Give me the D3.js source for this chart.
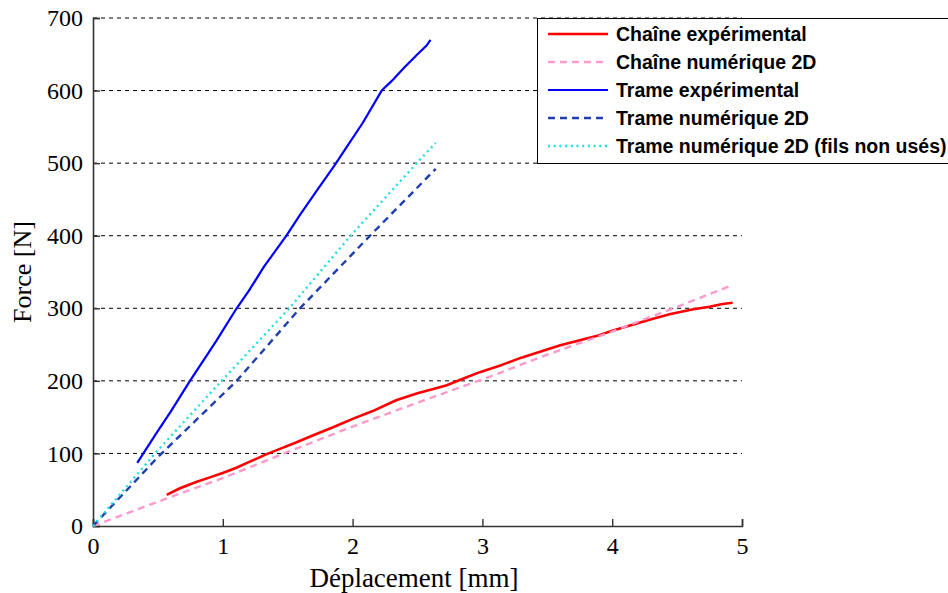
<!DOCTYPE html>
<html>
<head>
<meta charset="utf-8">
<script src="https://cdn.jsdelivr.net/npm/d3@7"></script>
<style>
  html, body { margin: 0; padding: 0; background: #fff; }
  svg { display: block; }
</style>
</head>
<body>
<svg id="chart" width="948" height="593"></svg>
<script>
// Force–displacement curves: warp (chaîne) and weft (trame), experiment vs 2D model
const xTicks = [0, 1, 2, 3, 4, 5];
const yTicks = [0, 100, 200, 300, 400, 500, 600, 700];

const chaineExpX = [0.568, 0.67, 0.80, 0.90, 1.004, 1.10, 1.20, 1.338, 1.45, 1.55, 1.697, 1.85, 2.005, 2.15, 2.34, 2.50, 2.65, 2.725, 2.85, 2.98, 3.15, 3.30, 3.444, 3.60, 3.75, 3.90, 4.00, 4.15, 4.30, 4.45, 4.625, 4.75, 4.85, 4.928];
const chaineExpY = [43, 52, 61, 67, 73.5, 80, 88, 99, 107, 114, 125, 136, 148, 158, 173.6, 183, 190, 194, 203, 212, 222, 232, 240, 249, 256, 263, 269, 277, 285, 292, 298.6, 302, 306, 307.7];

const chaineNumX = [0, 0.568, 1, 1.5, 2, 2.5, 3, 3.5, 4, 4.5, 4.928];
const chaineNumY = [0, 38, 66, 102, 137, 170, 202, 236, 268, 302, 332];

const trameExpX = [0.341, 0.388, 0.50, 0.60, 0.747, 0.85, 0.95, 1.107, 1.20, 1.32, 1.49, 1.60, 1.72, 1.857, 1.95, 2.08, 2.224, 2.30, 2.40, 2.50, 2.57, 2.60];
const trameExpY = [87, 100, 131, 158, 200, 228, 255, 300, 324, 358, 400, 430, 461, 496, 521, 556, 600, 613, 632, 650, 662, 670];

const trameNumX = [0, 0.5, 1.107, 1.595, 2.134, 2.64];
const trameNumY = [0, 95, 200, 300, 400, 492];

const trameNuX = [0, 0.478, 0.991, 1.512, 1.985, 2.494, 2.64];
const trameNuY = [0, 100, 200, 300, 400, 500, 528];

const seriesNames = [
  "Chaîne expérimental",
  "Chaîne numérique 2D",
  "Trame expérimental",
  "Trame numérique 2D",
  "Trame numérique 2D (fils non usés)"
];

const styles = [
  { color: "#ff0000", width: 2.6, dash: null },
  { color: "#ff99cc", width: 2.4, dash: "7,5" },
  { color: "#0000ff", width: 2.2, dash: null },
  { color: "#1f3fb0", width: 2.4, dash: "7,5" },
  { color: "#22dddd", width: 2.4, dash: "2,3.7" }
];

const xs = [chaineExpX, chaineNumX, trameExpX, trameNumX, trameNuX];
const ys = [chaineExpY, chaineNumY, trameExpY, trameNumY, trameNuY];

const svg = d3.select("#chart");
const plotLeft = 93, plotRight = 742, plotTop = 18, plotBottom = 526;

const x = d3.scaleLinear().domain([0, 5]).range([plotLeft, plotRight]);
const y = d3.scaleLinear().domain([0, 700]).range([plotBottom, plotTop]);

// horizontal dashed grid
svg.append("g")
  .selectAll("line")
  .data(yTicks.filter(d => d > 0))
  .join("line")
  .attr("x1", plotLeft).attr("x2", plotRight)
  .attr("y1", d => y(d)).attr("y2", d => y(d))
  .attr("stroke", "#000")
  .attr("stroke-width", 1)
  .attr("stroke-dasharray", "4,4");

// axes (ticks pointing inward)
const xAxis = svg.append("g")
  .attr("transform", `translate(0,${plotBottom})`)
  .call(d3.axisBottom(x).tickValues(xTicks).tickSize(-7).tickPadding(14).tickFormat(d3.format("d")));
const yAxis = svg.append("g")
  .attr("transform", `translate(${plotLeft},0)`)
  .call(d3.axisLeft(y).tickValues(yTicks).tickSize(-7).tickPadding(10).tickFormat(d3.format("d")));

[xAxis, yAxis].forEach(g => {
  g.select(".domain").attr("stroke", "#333").attr("stroke-width", 1.6);
  g.selectAll(".tick line").attr("stroke", "#333").attr("stroke-width", 1.4);
  g.selectAll("text")
    .attr("fill", "#000")
    .style("font-family", "'Liberation Serif', 'Times New Roman', serif")
    .style("font-size", "24px");
});
xAxis.selectAll("text").attr("dy", "0.58em");

// axis titles
svg.append("text")
  .attr("x", 414)
  .attr("y", 587)
  .attr("text-anchor", "middle")
  .style("font-family", "'Liberation Serif', 'Times New Roman', serif")
  .style("font-size", "27px")
  .text("Déplacement [mm]");

svg.append("text")
  .attr("transform", "translate(31,272) rotate(-90)")
  .attr("text-anchor", "middle")
  .style("font-family", "'Liberation Serif', 'Times New Roman', serif")
  .style("font-size", "26px")
  .text("Force [N]");

// curves
const line = d3.line().x(d => x(d[0])).y(d => y(d[1]));
const plot = svg.append("g");
// draw order: numerical models over experimental curves
[0, 2, 1, 3, 4].forEach(i => {
  const pts = xs[i].map((v, k) => [v, ys[i][k]]);
  plot.append("path")
    .datum(pts)
    .attr("d", line)
    .attr("fill", "none")
    .attr("stroke", styles[i].color)
    .attr("stroke-width", styles[i].width)
    .attr("stroke-dasharray", styles[i].dash)
    .attr("stroke-linejoin", "round");
});

// legend
const lg = svg.append("g").attr("transform", "translate(537,18)");
lg.append("rect")
  .attr("x", 0.5).attr("y", 0.5)
  .attr("width", 420).attr("height", 145)
  .attr("fill", "#fff")
  .attr("stroke", "#000")
  .attr("stroke-width", 1);

const rowY = [16, 44, 72, 100, 128];
seriesNames.forEach((name, i) => {
  const g = lg.append("g").attr("transform", `translate(0,${rowY[i]})`);
  g.append("line")
    .attr("x1", 11).attr("x2", 71)
    .attr("stroke", styles[i].color)
    .attr("stroke-width", styles[i].width)
    .attr("stroke-dasharray", styles[i].dash);
  g.append("text")
    .attr("x", 79)
    .attr("dy", "0.36em")
    .style("font-family", "'Liberation Sans', Arial, sans-serif")
    .style("font-weight", "bold")
    .style("font-size", "19.5px")
    .attr("fill", "#000")
    .text(name);
});
</script>
</body>
</html>
